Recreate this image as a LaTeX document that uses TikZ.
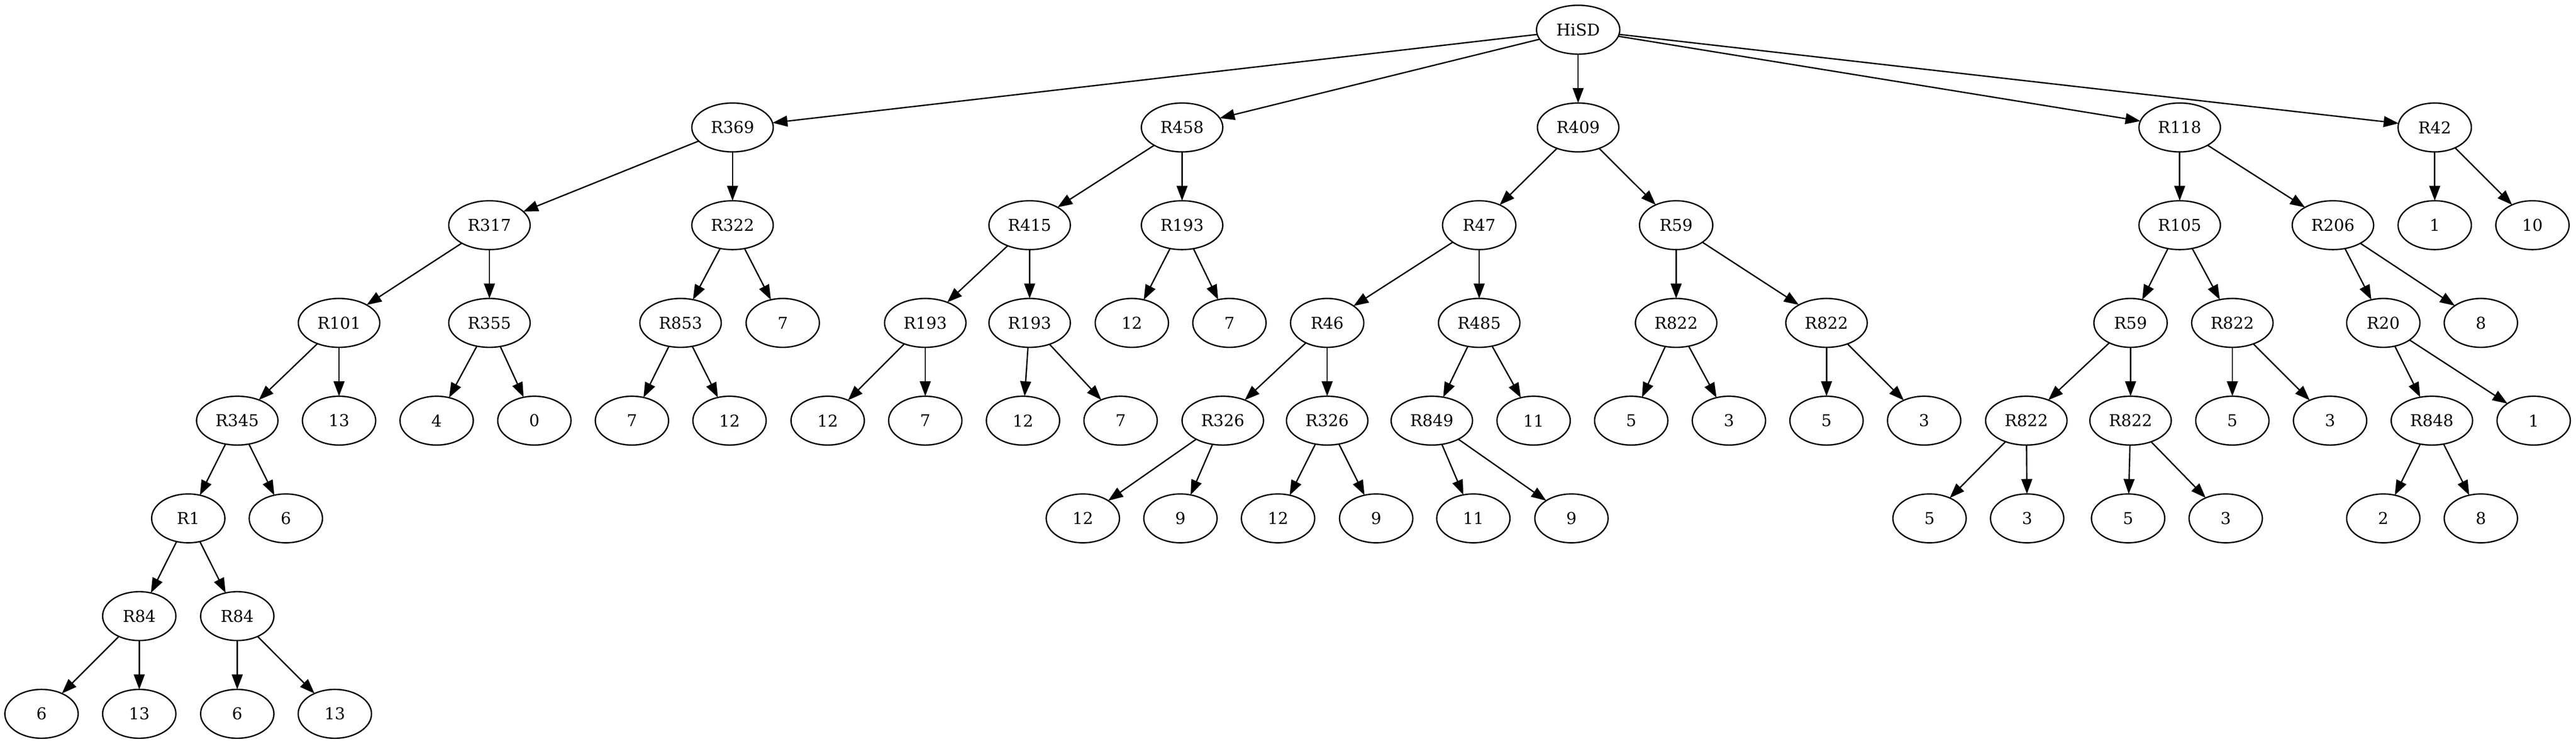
\documentclass[tikz,border=0pt]{standalone}
\usepackage{fontspec}
\setmainfont{DejaVu Serif}
\usetikzlibrary{shapes.geometric,arrows.meta}
\tikzset{
  nd/.style={ellipse, draw, line width=1pt, minimum width=54pt, minimum height=36pt,
    inner sep=0pt, outer sep=0pt, font=\fontsize{12}{14}\selectfont},
  wd/.style={nd, minimum width=60pt},
  ar/.style={-{Triangle[length=11pt,width=8pt]}, line width=1pt}
}
\begin{document}
\begin{tikzpicture}[x=1pt,y=1pt]
\fill[white] (0,0) rectangle (1897.9,547.9);
\useasboundingbox (0,0) rectangle (1897.9,547.9);
% rank 0
\node[nd, minimum width=61.4pt] (hisd) at (1162.7,526) {HiSD};
% rank 1
\node[wd] (r369) at (539.7,454) {R369};
\node[wd] (r458) at (870.9,454) {R458};
\node[wd] (r409) at (1162.7,454) {R409};
\node[wd] (r118) at (1605.9,454) {R118};
\node[nd] (r42) at (1793.8,454) {R42};
% rank 2
\node[wd] (r317) at (360.6,382) {R317};
\node[wd] (r322) at (539.7,382) {R322};
\node[wd] (r415) at (758.6,382) {R415};
\node[wd] (r193t) at (870.9,382) {R193};
\node[nd] (r47) at (1089.8,382) {R47};
\node[nd] (r59) at (1234.9,382) {R59};
\node[wd] (r105) at (1605.9,382) {R105};
\node[wd] (r206) at (1718.8,382) {R206};
\node[nd] (l1a) at (1793.8,382) {1};
\node[nd] (l10) at (1865.8,382) {10};
% rank 3
\node[wd] (r101) at (249.8,310) {R101};
\node[wd] (r355) at (360.6,310) {R355};
\node[wd] (r853) at (501.4,310) {R853};
\node[nd] (l7a) at (576.7,310) {7};
\node[wd] (r193a) at (681.7,310) {R193};
\node[wd] (r193b) at (758.6,310) {R193};
\node[nd] (l12a) at (833.9,310) {12};
\node[nd] (l7b) at (905.8,310) {7};
\node[nd] (r46) at (977.8,310) {R46};
\node[wd] (r485) at (1089.8,310) {R485};
\node[wd] (r822a) at (1234.9,310) {R822};
\node[wd] (r822b) at (1345.7,310) {R822};
\node[nd] (r59b) at (1569.7,310) {R59};
\node[wd] (r822c) at (1644.7,310) {R822};
\node[nd] (r20) at (1755.9,310) {R20};
\node[nd] (l8a) at (1827.8,310) {8};
% rank 4
\node[wd] (r345) at (174.8,238) {R345};
\node[nd] (l13a) at (249.8,238) {13};
\node[nd] (l4) at (321.7,238) {4};
\node[nd] (l0) at (393.7,238) {0};
\node[nd] (l7c) at (465.6,238) {7};
\node[nd] (l12b) at (537.5,238) {12};
\node[nd] (l12c) at (609.8,238) {12};
\node[nd] (l7d) at (681.7,238) {7};
\node[nd] (l12d) at (753.7,238) {12};
\node[nd] (l7e) at (825.6,238) {7};
\node[wd] (r326a) at (900.9,238) {R326};
\node[wd] (r326b) at (977.8,238) {R326};
\node[wd] (r849) at (1054.9,238) {R849};
\node[nd] (l11a) at (1129.9,238) {11};
\node[nd] (l5a) at (1201.8,238) {5};
\node[nd] (l3a) at (1273.8,238) {3};
\node[nd] (l5b) at (1345.7,238) {5};
\node[nd] (l3b) at (1417.6,238) {3};
\node[wd] (r822d) at (1492.9,238) {R822};
\node[wd] (r822e) at (1569.7,238) {R822};
\node[nd] (l5c) at (1644.7,238) {5};
\node[nd] (l3c) at (1716.7,238) {3};
\node[wd] (r848) at (1791.7,238) {R848};
\node[nd] (l1b) at (1866.7,238) {1};
% rank 5
\node[nd] (r1) at (138.7,166) {R1};
\node[nd] (l6a) at (210.6,166) {6};
\node[nd] (l12e) at (797.8,166) {12};
\node[nd] (l9a) at (869.7,166) {9};
\node[nd] (l12f) at (941.6,166) {12};
\node[nd] (l9b) at (1013.9,166) {9};
\node[nd] (l11b) at (1085.5,166) {11};
\node[nd] (l9c) at (1157.8,166) {9};
\node[nd] (l5d) at (1421.6,166) {5};
\node[nd] (l3d) at (1493.5,166) {3};
\node[nd] (l5e) at (1567.9,166) {5};
\node[nd] (l3e) at (1639.8,166) {3};
\node[nd] (l2) at (1755.9,166) {2};
\node[nd] (l8b) at (1827.8,166) {8};
% rank 6
\node[nd] (r84a) at (102.6,94) {R84};
\node[nd] (r84b) at (174.8,94) {R84};
% rank 7
\node[nd] (l6b) at (30.6,22) {6};
\node[nd] (l13b) at (102.6,22) {13};
\node[nd] (l6c) at (174.8,22) {6};
\node[nd] (l13c) at (246.7,22) {13};
% edges
\foreach \a/\b in {hisd/r369,hisd/r458,hisd/r409,hisd/r118,hisd/r42,
  r369/r317,r369/r322,r317/r101,r317/r355,r101/r345,r101/l13a,
  r345/r1,r345/l6a,r1/r84a,r1/r84b,r84a/l6b,r84a/l13b,r84b/l6c,r84b/l13c,
  r355/l4,r355/l0,r322/r853,r322/l7a,r853/l7c,r853/l12b,
  r458/r415,r458/r193t,r415/r193a,r415/r193b,r193a/l12c,r193a/l7d,
  r193b/l12d,r193b/l7e,r193t/l12a,r193t/l7b,
  r409/r47,r409/r59,r47/r46,r47/r485,r46/r326a,r46/r326b,
  r326a/l12e,r326a/l9a,r326b/l12f,r326b/l9b,r485/r849,r485/l11a,
  r849/l11b,r849/l9c,r59/r822a,r59/r822b,r822a/l5a,r822a/l3a,
  r822b/l5b,r822b/l3b,r118/r105,r118/r206,r105/r59b,r105/r822c,
  r59b/r822d,r59b/r822e,r822d/l5d,r822d/l3d,r822e/l5e,r822e/l3e,
  r822c/l5c,r822c/l3c,r206/r20,r206/l8a,r20/r848,r20/l1b,
  r848/l2,r848/l8b,r42/l1a,r42/l10}
  \draw[ar] (\a) -- (\b);
\end{tikzpicture}
\end{document}
